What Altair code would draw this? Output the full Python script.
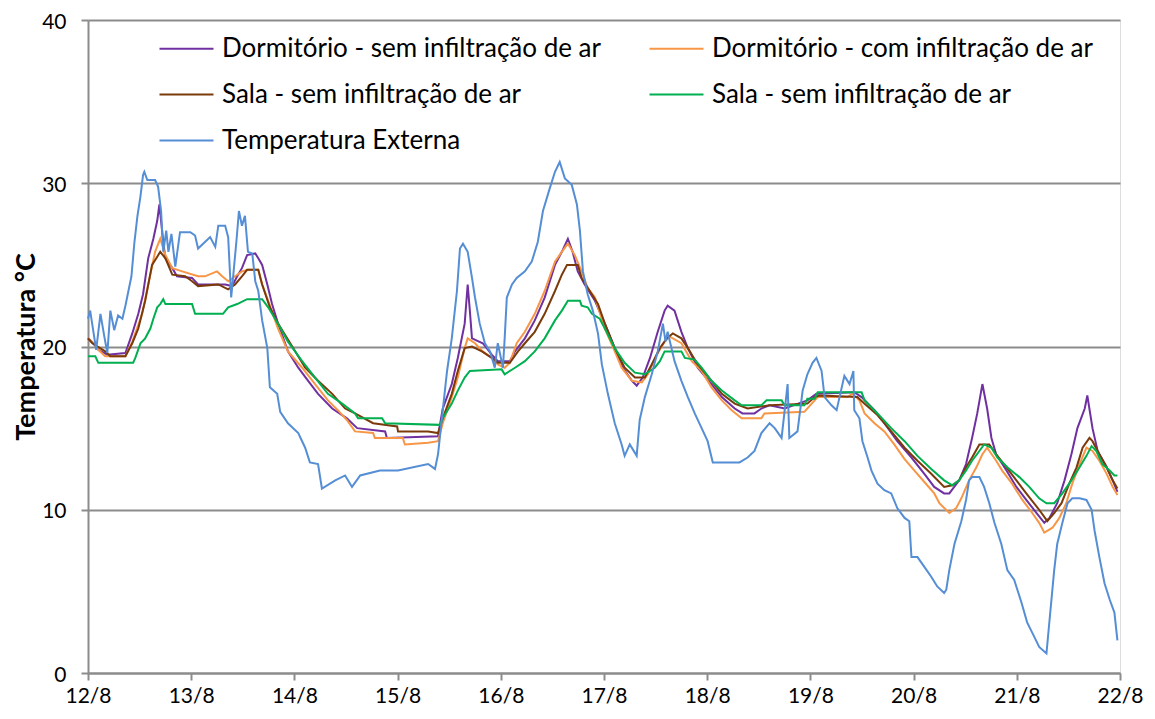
import altair as alt
import pandas as pd

# ---------------- data (hours since 12/8 00:00, temperature °C) ----------------
day_labels = ["12/8", "13/8", "14/8", "15/8", "16/8", "17/8", "18/8", "19/8", "20/8", "21/8", "22/8"]
y_ticks = [0, 10, 20, 30, 40]

series_keys = ["dorm_sem", "dorm_com", "sala_sem", "sala_sem2", "ext"]
series_names = [
    "Dormitório - sem infiltração de ar",
    "Dormitório - com infiltração de ar",
    "Sala - sem infiltração de ar",
    "Sala - sem infiltração de ar",
    "Temperatura Externa",
]
series_colors = ["#7030A0", "#F79646", "#7B3A0A", "#00B050", "#558ED5"]

# the legend fills its two columns top to bottom: this order gives the reference's rows
legend_order = ["dorm_sem", "sala_sem", "ext", "dorm_com", "sala_sem2"]

dorm_sem_h = [0, 1.2, 2.4, 4.5, 8.7, 10.3, 11.7, 12.8, 14.0, 15.2, 16.1, 16.6, 17.5, 18.0, 19.6, 20.7, 24.2, 25.6,
              31.9, 33.5, 34.7, 35.8, 37.0, 38.9, 39.6, 40.5, 41.7, 42.8, 44.2, 46.5, 48.9, 51.2, 53.5, 56.8,
              60.2, 62.6, 69.1, 69.5, 81.4, 82.5, 84.6, 86.0, 87.6, 88.3, 88.8, 89.3, 91.8, 93.9, 95.3, 98.1,
              99.3, 101.6, 103.9, 106.2, 108.6, 110.2, 111.6, 112.7, 113.9, 115.5, 117.9, 120.2, 122.5, 124.4,
              126.5, 127.6, 129.0, 130.7, 132.5, 134.1, 134.8, 136.4, 138.0, 139.5, 141.8, 145.0, 147.4, 150.4,
              152.2, 155.0, 156.6, 158.5, 162.0, 167.3, 169.4, 178.2, 179.9, 182.9, 185.2, 188.2, 191.5, 194.5,
              196.8, 199.1, 200.3, 202.6, 204.2, 205.6, 206.8, 208.0, 209.1, 210.1, 211.2, 213.6, 215.9, 218.2,
              220.6, 222.4, 223.6, 225.4, 227.1, 228.7, 230.1, 231.8, 232.4, 233.6, 234.8, 236.9, 238.3, 239.4]
dorm_sem_t = [20.5, 20.2, 19.8, 19.5, 19.6, 20.8, 22.0, 23.2, 25.4, 26.6, 27.7, 28.7, 26.4, 25.4, 24.8, 24.3, 24.2, 23.8,
              23.8, 23.7, 24.3, 24.8, 25.6, 25.7, 25.4, 25.0, 23.8, 22.6, 21.4, 19.7, 18.7, 17.9, 17.1, 16.2,
              15.6, 15.0, 14.8, 14.4, 14.5, 16.2, 17.7, 19.3, 21.4, 23.8, 22.2, 20.5, 20.2, 19.5, 19.1, 19.1,
              19.7, 20.5, 21.6, 23.0, 25.0, 25.8, 26.6, 25.8, 24.6, 23.8, 22.8, 21.4, 19.9, 18.7,
              17.9, 17.6, 18.1, 19.3, 20.9, 22.2, 22.5, 22.2, 20.9, 19.9, 18.7, 17.7, 16.9, 16.2,
              15.9, 15.9, 16.2, 16.4, 16.2, 16.7, 17.1, 17.2, 16.9, 16.1, 15.3, 14.2, 13.2, 12.2,
              11.4, 11.0, 11.0, 11.8, 12.8, 14.4, 15.9, 17.7, 16.2, 14.4, 13.4, 12.4, 11.4, 10.6,
              9.8, 9.2, 9.5, 10.4, 11.8, 13.4, 15.0, 16.2, 17.0, 15.0, 13.6, 12.6, 11.8, 11.1]

dorm_com_h = [0, 1.2, 2.4, 4.0, 8.7, 10.3, 12.6, 14.0, 15.6, 16.8, 18.0, 19.6, 21.9, 25.6, 27.2, 30.0, 31.2, 32.6,
              34.2, 35.8, 37.2, 39.6, 40.5, 41.9, 44.2, 46.5, 49.8, 52.8, 55.8, 58.1, 60.2, 62.1, 66.3, 66.7,
              73.2, 73.7, 79.1, 81.4, 82.5, 84.6, 86.0, 87.6, 88.3, 90.0, 91.8, 93.9, 95.3, 96.9, 98.1, 99.7,
              101.6, 103.9, 106.2, 108.6, 110.2, 111.6, 113.2, 114.8, 116.2, 117.9, 120.2, 122.5, 124.1, 126.5,
              128.8, 130.2, 132.3, 134.1, 135.3, 138.0, 140.4, 142.7, 145.0, 147.4, 149.7, 152.0, 156.6, 157.3,
              166.6, 168.3, 169.7, 176.6, 177.8, 179.4, 180.6, 182.9, 185.2, 187.5, 189.9, 192.2, 194.5, 196.8,
              198.0, 200.3, 201.9, 203.1, 204.9, 206.6, 208.0, 209.1, 211.2, 212.6, 214.9, 217.3, 219.6, 221.2,
              222.4, 224.3, 225.9, 227.5, 228.9, 230.6, 232.2, 233.6, 235.2, 236.9, 238.3, 239.4]
dorm_com_t = [20.5, 20.2, 19.8, 19.4, 19.4, 20.3, 22.0, 23.8, 25.8, 26.6, 25.6, 24.8, 24.6, 24.3, 24.3, 24.6, 24.3, 24.0,
              24.3, 24.6, 24.7, 24.7, 23.8, 22.8, 21.1, 19.7, 18.7, 17.7, 16.7, 16.1, 15.5, 14.8, 14.7, 14.4,
              14.4, 14.0, 14.1, 14.2, 15.3, 16.9, 18.1, 19.9, 20.5, 20.2, 19.7, 19.3, 18.9, 18.7, 19.0, 20.2,
              20.9, 22.0, 23.4, 25.2, 25.8, 26.3, 25.6, 24.6, 23.6, 23.0, 21.1, 19.7, 18.7, 17.9,
              17.8, 18.3, 19.5, 20.3, 20.6, 20.2, 19.1, 18.5, 17.5, 16.7, 16.1, 15.6, 15.6, 15.9,
              16.0, 16.5, 16.9, 16.9, 17.1, 16.7, 15.9, 15.3, 14.8, 14.0, 13.1, 12.4, 11.7, 11.0,
              10.4, 9.8, 10.1, 10.7, 11.8, 12.6, 13.4, 13.8, 13.0, 12.4, 11.6, 10.6, 9.8, 9.2,
              8.6, 8.9, 9.5, 10.4, 11.6, 12.8, 13.8, 13.6, 13.0, 12.2, 11.4, 10.9]

sala_sem_h = [0, 1.0, 4.0, 5.2, 8.7, 10.3, 11.7, 13.3, 14.9, 16.1, 16.8, 18.0, 19.6, 22.6, 24.2, 25.6, 30.3, 32.6,
              34.2, 35.8, 37.0, 39.6, 40.5, 42.3, 44.2, 47.5, 50.5, 53.5, 56.8, 59.8, 62.1, 66.3, 71.9, 72.1,
              79.1, 81.4, 82.5, 84.6, 86.0, 87.6, 89.3, 91.6, 93.9, 95.3, 98.1, 100.0, 101.6, 103.9, 106.2, 108.6,
              110.2, 111.4, 113.9, 114.8, 116.2, 118.6, 120.2, 122.5, 124.8, 127.2, 129.5, 131.1, 133.0, 134.6,
              136.0, 138.0, 139.5, 141.8, 145.0, 147.4, 150.4, 153.4, 158.5, 167.3, 169.0, 170.1, 178.9, 180.6,
              183.6, 186.8, 189.9, 192.9, 196.1, 199.1, 201.0, 202.6, 204.2, 205.6, 207.3, 209.6, 211.2, 213.6,
              215.9, 218.2, 221.2, 223.1, 224.7, 226.4, 228.2, 229.9, 231.3, 232.9, 233.6, 235.2, 236.9, 238.3, 239.4]
sala_sem_t = [20.5, 20.2, 19.7, 19.4, 19.4, 20.2, 21.1, 22.8, 25.0, 25.5, 25.8, 25.4, 24.4, 24.3, 24.0, 23.7, 23.8, 23.5,
              23.8, 24.3, 24.7, 24.7, 23.8, 22.4, 21.4, 20.0, 18.7, 17.9, 17.1, 16.2, 15.9, 15.3, 15.1, 14.8,
              14.8, 14.7, 15.6, 17.1, 18.5, 19.9, 20.0, 19.7, 19.3, 19.0, 19.0, 19.7, 20.2, 20.9, 22.0, 23.4,
              24.4, 25.0, 25.0, 24.2, 23.6, 22.6, 21.4, 19.9, 18.7, 18.1, 18.1, 18.9, 19.9, 20.5,
              20.8, 20.5, 19.9, 18.9, 17.9, 17.1, 16.5, 16.2, 16.4, 16.5, 16.9, 17.0, 16.9, 16.5,
              15.8, 14.8, 13.8, 13.0, 12.2, 11.4, 11.5, 11.8, 12.6, 13.2, 14.0, 14.0, 13.4, 12.6,
              11.8, 11.0, 10.0, 9.3, 9.8, 10.4, 11.6, 12.6, 13.8, 14.4, 14.2, 13.4, 12.6, 11.8, 11.3]

sala_sem2_h = [0, 1.7, 2.4, 10.5, 11.0, 12.2, 13.3, 14.5, 15.2, 16.1, 16.8, 17.5, 18.0, 24.2, 24.9, 31.4, 32.6, 34.7,
               37.0, 40.5, 41.9, 44.2, 46.5, 49.8, 52.8, 55.8, 59.1, 62.1, 62.8, 68.4, 69.1, 81.8, 82.5, 84.6,
               86.0, 87.6, 88.8, 96.2, 96.9, 99.3, 101.6, 103.9, 106.2, 108.6, 110.2, 111.6, 114.4, 114.8, 116.2,
               117.2, 119.0, 120.2, 122.5, 124.8, 127.2, 129.5, 131.8, 133.0, 134.1, 138.0, 138.8, 141.1, 142.7,
               145.0, 147.4, 150.4, 152.0, 156.6, 157.8, 161.3, 162.0, 166.6, 167.3, 169.0, 169.7, 179.9, 180.6,
               183.6, 186.8, 189.9, 192.9, 196.1, 199.1, 201.0, 202.6, 204.2, 205.6, 207.3, 208.4, 210.1, 211.5,
               213.8, 216.6, 218.9, 221.2, 222.9, 224.7, 226.6, 228.7, 230.6, 232.2, 233.4, 234.5, 235.9, 237.6,
               238.7, 239.4]
sala_sem2_t = [19.4, 19.4, 19.0, 19.0, 19.3, 20.2, 20.5, 21.1, 21.7, 22.4, 22.6, 22.9, 22.6, 22.6, 22.0, 22.0, 22.4, 22.6,
               22.9, 22.9, 22.4, 21.4, 20.3, 19.1, 18.1, 17.1, 16.5, 15.9, 15.6, 15.6, 15.3, 15.2, 15.6, 16.5,
               17.3, 18.1, 18.5, 18.6, 18.3, 18.7, 19.1, 19.7, 20.5, 21.6, 22.2, 22.8, 22.8, 22.5, 22.4,
               22.0, 21.7, 21.1, 19.9, 19.0, 18.4, 18.3, 18.7, 19.1, 19.7, 19.7, 19.3, 19.2, 18.7,
               17.9, 17.3, 16.7, 16.4, 16.4, 16.7, 16.7, 16.4, 16.4, 16.8, 16.8, 17.2, 17.2, 16.7,
               15.9, 15.0, 14.2, 13.3, 12.5, 11.8, 11.5, 11.8, 12.4, 13.0, 13.6, 14.0, 13.8, 13.2,
               12.6, 12.0, 11.4, 10.7, 10.4, 10.4, 11.0, 11.8, 12.6, 13.3, 13.9, 13.6, 12.8, 12.4,
               12.1, 12.1]

ext_h = [0, 0.5, 1.2, 1.9, 2.9, 3.8, 4.5, 5.2, 6.1, 7.0, 8.0, 8.7, 9.4, 10.1, 10.8, 11.5, 12.2, 12.8, 13.1, 13.8,
         14.5, 15.6, 16.3, 17.0, 17.5, 18.2, 18.7, 19.4, 20.3, 21.4, 23.8, 24.9, 25.6, 27.2, 28.4, 29.6, 30.3,
         31.9, 32.6, 33.3, 34.5, 35.1, 35.8, 36.5, 37.2, 38.2, 38.9, 39.6, 40.5, 41.7, 42.3, 44.0, 44.7, 46.5,
         48.9, 50.5, 51.6, 53.5, 54.4, 57.5, 59.8, 61.4, 63.3, 67.9, 72.1, 79.1, 80.7, 81.4, 82.3, 83.5, 84.6,
         85.8, 86.5, 87.2, 88.3, 89.3, 90.0, 91.1, 92.3, 93.5, 94.6, 95.3, 96.5, 96.9, 97.4, 98.6, 99.7, 101.6,
         103.2, 104.6, 105.8, 107.4, 108.6, 109.7, 110.9, 112.5, 113.7, 114.4, 115.1, 116.2, 117.4, 118.6,
         119.5, 120.9, 122.5, 124.1, 124.8, 126.0, 127.6, 128.3, 129.5, 131.1, 132.5, 133.7, 134.3, 134.8,
         136.4, 138.0, 139.5, 141.1, 142.7, 144.1, 145.3, 151.5, 153.4, 155.0, 156.6, 158.5, 159.7, 161.3,
         162.7, 163.1, 165.0, 166.2, 167.3, 168.5, 169.4, 170.6, 171.3, 172.9, 174.1, 175.9, 177.1, 178.0,
         178.2, 179.4, 180.1, 181.3, 182.2, 183.6, 185.2, 186.8, 188.2, 189.9, 191.0, 191.5, 192.9, 194.5,
         196.1, 197.5, 199.1, 199.6, 200.3, 201.5, 203.1, 204.2, 204.9, 205.6, 207.3, 208.4, 209.6, 210.8,
         212.4, 213.8, 215.4, 217.1, 218.4, 220.1, 221.2, 222.9, 223.6, 224.7, 225.4, 226.6, 227.8, 228.9,
         230.6, 232.2, 233.4, 234.1, 235.2, 236.4, 237.6, 238.7, 239.4]
ext_t = [21.7, 22.2, 21.0, 19.8, 22.0, 20.6, 19.6, 22.2, 21.0, 21.9, 21.7, 22.5, 23.4, 24.3, 26.4, 28.0, 29.2, 30.5, 30.7, 30.2,
         30.2, 30.2, 29.8, 28.3, 25.8, 27.1, 25.8, 26.9, 24.9, 27.0, 27.0, 26.8, 26.0, 26.4, 26.7, 26.1, 27.4,
         27.4, 26.7, 23.0, 26.4, 28.3, 27.4, 28.0, 25.8, 25.7, 24.0, 23.4, 21.6, 19.9, 17.5, 17.1, 16.0, 15.3,
         14.7, 13.8, 12.9, 12.8, 11.3, 11.8, 12.1, 11.4, 12.1, 12.4, 12.4, 12.8, 12.5, 13.4, 15.6, 18.5, 20.5,
         23.4, 26.0, 26.3, 25.8, 24.2, 23.0, 21.4, 20.2, 19.7, 18.7, 20.2, 18.7, 20.5, 23.0, 23.8, 24.2, 24.6,
         25.2, 26.4, 28.3, 29.7, 30.7, 31.3, 30.3, 29.9, 28.7, 27.1, 24.6, 23.2, 22.2, 20.8,
         18.9, 17.1, 15.3, 14.0, 13.3, 14.0, 13.3, 15.5, 16.9, 18.3, 19.7, 21.4, 20.3, 20.9,
         19.1, 17.9, 16.9, 15.9, 15.0, 14.2, 12.9, 12.9, 13.2, 13.6, 14.7, 15.3, 15.0, 14.4,
         17.7, 14.4, 14.8, 17.3, 18.3, 19.0, 19.3, 18.5, 16.9, 16.4, 16.1, 18.2, 17.7, 18.5,
         16.1, 15.6, 14.2, 13.2, 12.4, 11.6, 11.2, 11.0, 10.1, 9.5, 9.3, 7.1, 7.1, 6.5,
         5.9, 5.3, 4.9, 5.1, 6.3, 7.9, 9.3, 10.6, 11.8, 12.0, 12.0, 11.4, 10.4, 9.2,
         7.9, 6.3, 5.7, 4.3, 3.1, 2.2, 1.6, 1.2, 3.2, 6.3, 7.9, 9.2, 10.4, 10.7,
         10.7, 10.6, 10.0, 8.7, 7.1, 5.5, 4.5, 3.7, 2.0]

hours = {"dorm_sem": dorm_sem_h, "dorm_com": dorm_com_h, "sala_sem": sala_sem_h,
         "sala_sem2": sala_sem2_h, "ext": ext_h}
temps = {"dorm_sem": dorm_sem_t, "dorm_com": dorm_com_t, "sala_sem": sala_sem_t,
         "sala_sem2": sala_sem2_t, "ext": ext_t}

frames = []
for i, k in enumerate(series_keys):
    frames.append(pd.DataFrame({"serie": k, "ordem": i, "hora": hours[k], "temp": temps[k]}))
df = pd.concat(frames, ignore_index=True)

FONT = "Lato"
GRID = "#8C8C8C"

color_of = dict(zip(series_keys, series_colors))
label_map = "{" + ",".join(f"'{k}':'{n}'" for k, n in zip(series_keys, series_names)) + "}"
x_label_expr = "[" + ",".join(f"'{d}'" for d in day_labels) + "][round(datum.value/24)]"

chart = (
    alt.Chart(df)
    .mark_line(strokeWidth=2, interpolate="linear")
    .encode(
        x=alt.X(
            "hora:Q",
            scale=alt.Scale(domain=[0, 240], nice=False, zero=False),
            axis=alt.Axis(
                values=[24 * i for i in range(len(day_labels))],
                labelExpr=x_label_expr,
                title=None,
                grid=False,
                domainColor=GRID,
                domainWidth=2,
                tickColor=GRID,
                tickWidth=2,
                tickSize=7,
                labelFont=FONT,
                labelFontSize=21,
                labelColor="#000000",
                labelPadding=5,
                labelFlush=False,
            ),
        ),
        y=alt.Y(
            "temp:Q",
            scale=alt.Scale(domain=[0, 40], nice=False),
            axis=alt.Axis(
                values=y_ticks,
                title="Temperatura °C",
                titleFont=FONT,
                titleFontSize=27,
                titleFontWeight="bold",
                titleColor="#000000",
                titlePadding=1,
                grid=True,
                gridColor=GRID,
                gridWidth=2,
                domainColor=GRID,
                domainWidth=2,
                tickColor=GRID,
                tickWidth=2,
                tickSize=7,
                labelFont=FONT,
                labelFontSize=21,
                labelColor="#000000",
                labelPadding=15,
                labelOffset=2,
            ),
        ),
        color=alt.Color(
            "serie:N",
            scale=alt.Scale(domain=legend_order, range=[color_of[k] for k in legend_order]),
            legend=alt.Legend(
                title=None,
                orient="none",
                legendX=84,
                legendY=14,
                columns=2,
                symbolType="M-2,0H2",
                symbolSize=729,
                symbolStrokeWidth=2,
                labelExpr=label_map + "[datum.value]",
                labelFont=FONT,
                labelFontSize=26,
                labelColor="#000000",
                labelOffset=21,
                rowPadding=18,
                columnPadding=43,
                labelLimit=700,
            ),
        ),
        detail="ordem:O",
        order="hora:Q",
    )
    .properties(
        width=1032,
        height=653,
        autosize=alt.AutoSizeParams(type="none"),
        padding={"left": 80, "top": 12, "right": 26, "bottom": 38},
    )
    .configure_view(fill="#D9D9D9", stroke=None)
    .configure(background="#FFFFFF")
)

chart.save("out.html", embed_options={"renderer": "svg", "actions": False})
